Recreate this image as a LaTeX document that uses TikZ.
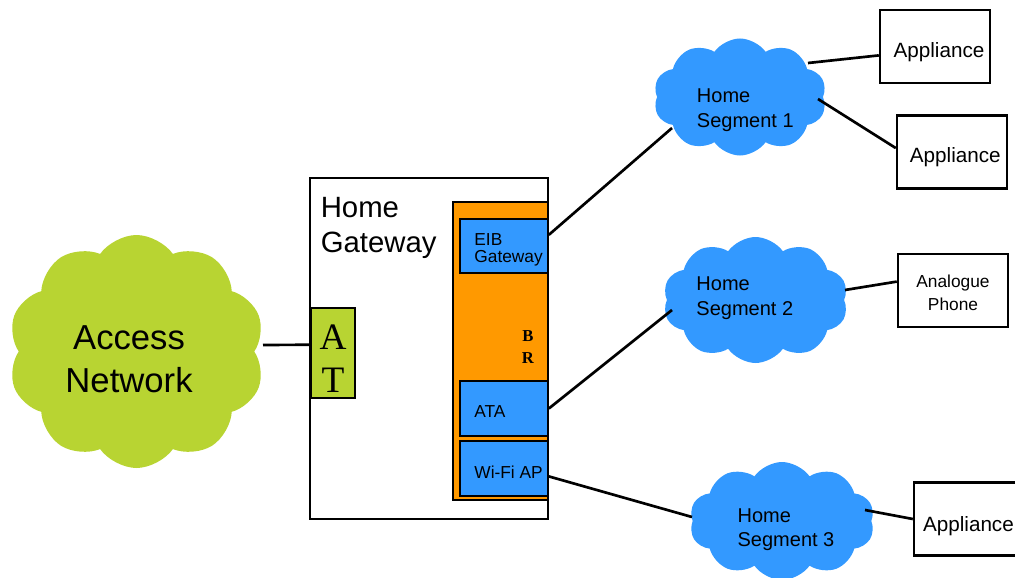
\documentclass[tikz,border=0pt]{standalone}
\usepackage{fontspec}
\setmainfont{Liberation Sans}
\newfontfamily\serifat{Liberation Serif}
\usetikzlibrary{shapes.symbols}
\definecolor{netgreen}{HTML}{B8D432}
\definecolor{segblue}{HTML}{3399FF}
\definecolor{brorange}{HTML}{FF9900}
\newcommand{\pxu}{0.75pt}
\begin{document}
\begin{tikzpicture}[x=0.75pt,y=-0.75pt,
  cloudnode/.style={cloud, cloud puffs=10, cloud puff arc=110, cloud ignores aspect,
    fill=segblue, draw=none, inner sep=0pt},
  tl/.style={inner sep=0pt, align=left, font=\fontsize{15}{18.5}\selectfont},
  bluebox/.style={rectangle, draw, line width=1.3pt, fill=segblue,
    minimum width=88*\pxu, minimum height=55*\pxu, inner sep=0pt},
  bt/.style={inner sep=0pt, align=left, anchor=west, xshift=11.25pt,
    font=\fontsize{13}{13}\selectfont},
  devbox/.style={rectangle, draw, line width=1.8pt, fill=white,
    minimum width=110*\pxu, minimum height=73*\pxu, inner sep=0pt},
  dt/.style={inner sep=0pt, align=center, font=\fontsize{15.5}{18}\selectfont},
  conn/.style={line width=2pt}]
\useasboundingbox (0,0) rectangle (1015,578);

% clouds
\node[cloudnode, fill=netgreen, minimum width=257*\pxu, minimum height=233*\pxu,
  label={[tl, align=center, xshift=-5.6pt, yshift=-5.6pt,
    font=\fontsize{26}{32}\selectfont]center:Access\\Network}] (an) at (136.5,351.5) {};
\node[cloudnode, minimum width=173*\pxu, minimum height=117*\pxu,
  label={[tl, xshift=4pt, yshift=-10pt]center:Home\\Segment 1}] (s1) at (740,97) {};
\node[cloudnode, minimum width=185*\pxu, minimum height=126*\pxu,
  label={[tl, xshift=-8pt, yshift=1.5pt]center:Home\\Segment 2}] (s2) at (755.5,300) {};
\node[cloudnode, minimum width=185*\pxu, minimum height=118*\pxu,
  label={[tl, xshift=3pt, yshift=-6.5pt]center:Home\\Segment 3}] (s3) at (782,521) {};

% home gateway
\node[rectangle, draw, line width=2.2pt, fill=white, minimum width=238*\pxu,
  minimum height=341*\pxu,
  label={[anchor=north west, inner sep=0pt, align=left, xshift=9pt, yshift=-15.5pt,
    font=\fontsize{22}{26}\selectfont]north west:Home\\Gateway}] (gw) at (429,348.5) {};
\node[rectangle, draw, line width=1pt, fill=netgreen, minimum width=44*\pxu,
  minimum height=90*\pxu, inner sep=0pt,
  label={[inner sep=0pt, align=center, yshift=-4.5pt,
    font=\serifat\fontsize{28}{32}\selectfont]center:A\\T}] (at) at (333,353) {};
\node[rectangle, draw, line width=1pt, fill=brorange, minimum width=95*\pxu,
  minimum height=298*\pxu,
  label={[inner sep=0pt, align=center, xshift=20.6pt, yshift=3pt,
    font=\serifat\bfseries\fontsize{12.5}{16.5}\selectfont]center:B\\R}] (br) at (500.5,351) {};
\node[bluebox, minimum height=54*\pxu,
  label={[bt, yshift=-3pt]west:EIB\\Gateway}] (eib) at (504,246) {};
\node[bluebox, label={[bt, yshift=-2.6pt]west:ATA}] (ata) at (504,408.5) {};
\node[bluebox, label={[bt, yshift=-2.6pt]west:Wi-Fi AP}] (wifi) at (504,468.5) {};

% devices
\node[devbox, label={[dt, xshift=3pt, yshift=-4.5pt]center:Appliance}] (app1) at (935,46.5) {};
\node[devbox, label={[dt, xshift=2.5pt, yshift=-3.8pt]center:Appliance}] (app2) at (952,152) {};
\node[devbox, label={[dt, yshift=-1.5pt, font=\fontsize{13}{17}\selectfont]center:Analogue\\Phone}] (phone) at (953,290.5) {};
\node[devbox, minimum width=112*\pxu,
  label={[dt, anchor=west, xshift=7.5pt, yshift=-5.5pt]west:Appliance}] (app3) at (970,519) {};

% cloud ends
\coordinate (anout) at (263,345);
\coordinate (s1in) at (672,128);
\coordinate (s1a) at (808,63);
\coordinate (s1b) at (818,99);
\coordinate (s2in) at (672,310);
\coordinate (s2a) at (845,290);
\coordinate (s3in) at (692,517);
\coordinate (s3a) at (865,510);

% connectors
\draw[conn] (anout) -- (at.160);
\draw[conn] (eib.14) -- (s1in);
\draw[conn] (s1a) -- (app1.189);
\draw[conn] (s1b) -- (app2.176);
\draw[conn] (ata.east) -- (s2in);
\draw[conn] (s2a) -- (phone.171);
\draw[conn] (wifi.-10) -- (s3in);
\draw[conn] (s3a) -- (app3.west);
\end{tikzpicture}
\end{document}
